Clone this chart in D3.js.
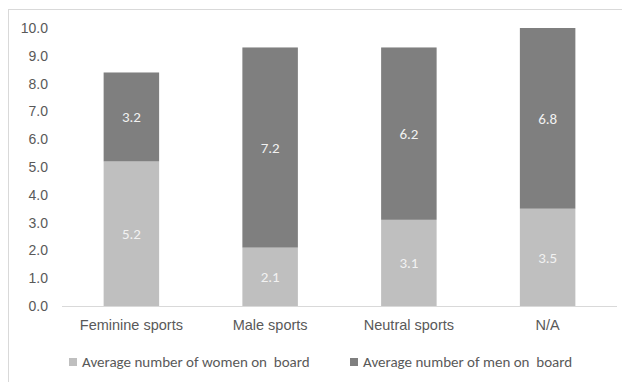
<!DOCTYPE html>
<html>
<head>
<meta charset="utf-8">
<script src="https://cdn.jsdelivr.net/npm/d3@7/dist/d3.min.js"></script>
<style>
  html, body { margin: 0; padding: 0; background: #fff; }
  svg { display: block; font-family: Carlito, Calibri, Lato, "Liberation Sans", sans-serif; }
</style>
</head>
<body>
<svg id="chart" width="622" height="382"></svg>
<script>
// Board composition by sport type
const categories = ["Feminine sports", "Male sports", "Neutral sports", "N/A"];
const women = [5.2, 2.1, 3.1, 3.5];
const men = [3.2, 7.2, 6.2, 6.8];
const yTicks = [0, 1, 2, 3, 4, 5, 6, 7, 8, 9, 10];
const seriesNames = ["Average number of women on  board", "Average number of men on  board"];
const seriesColors = ["#bfbfbf", "#7f7f7f"];

const svg = d3.select("#chart");
const W = 622, H = 382;

// outer chart frame
svg.append("rect")
  .attr("x", 8.5).attr("y", 9.5)
  .attr("width", W + 10).attr("height", H + 10)
  .attr("fill", "#fff").attr("stroke", "#d9d9d9").attr("stroke-width", 1);

const plot = { left: 62, right: 617, top: 28, bottom: 306 };

const x = d3.scaleBand()
  .domain(categories)
  .range([plot.left, plot.right])
  .paddingInner(0.6)
  .paddingOuter(0.3);

const y = d3.scaleLinear()
  .domain([0, 10])
  .range([plot.bottom, plot.top]);

svg.append("defs").append("clipPath").attr("id", "plotClip")
  .append("rect")
  .attr("x", plot.left).attr("y", plot.top)
  .attr("width", plot.right - plot.left).attr("height", plot.bottom - plot.top);

// stacked data
const rows = categories.map((c, i) => ({ cat: c, women: women[i], men: men[i] }));
const stack = d3.stack().keys(["women", "men"]);
const layers = stack(rows);

const barG = svg.append("g").attr("clip-path", "url(#plotClip)");
layers.forEach((layer, li) => {
  barG.selectAll(null)
    .data(layer)
    .enter().append("rect")
    .attr("x", d => x(d.data.cat))
    .attr("width", x.bandwidth())
    .attr("y", d => y(d[1]))
    .attr("height", d => y(d[0]) - y(d[1]))
    .attr("fill", seriesColors[li]);
});

// value labels, centred on the visible part of each segment
layers.forEach((layer, li) => {
  svg.selectAll(null)
    .data(layer)
    .enter().append("text")
    .attr("x", d => x(d.data.cat) + x.bandwidth() / 2)
    .attr("y", d => {
      const top = Math.max(y(d[1]), plot.top);
      return (top + y(d[0])) / 2;
    })
    .attr("dy", "0.35em")
    .attr("text-anchor", "middle")
    .attr("font-size", 15)
    .attr("fill", "#f2f2f2")
    .text(d => d3.format(".1f")(d[1] - d[0]));
});

// y axis labels
const yAxis = d3.axisLeft(y)
  .tickValues(yTicks)
  .tickFormat(d3.format(".1f"))
  .tickSize(0)
  .tickPadding(0);
const yG = svg.append("g").attr("transform", "translate(48,0)").call(yAxis);
yG.select(".domain").remove();
yG.selectAll("text").attr("font-size", 14).attr("fill", "#595959")
  .attr("font-family", null);

// x axis
const xAxis = d3.axisBottom(x).tickSize(0).tickPadding(14);
const xG = svg.append("g").attr("transform", `translate(0,${plot.bottom})`).call(xAxis);
xG.select(".domain").attr("stroke", "#d9d9d9").attr("stroke-width", 1)
  .attr("d", `M${plot.left},0.5H${plot.right}`);
xG.selectAll("text").attr("font-size", 14.5).attr("fill", "#595959")
  .attr("font-family", null);

// legend
const legendX = [69, 350];
seriesNames.forEach((name, i) => {
  const g = svg.append("g").attr("transform", `translate(${legendX[i]},358)`);
  g.append("rect").attr("x", 0).attr("y", 0).attr("width", 8).attr("height", 8)
    .attr("fill", seriesColors[i]);
  g.append("text").attr("x", 13).attr("y", 4).attr("dy", "0.35em")
    .attr("font-size", 15).attr("fill", "#595959")
    .attr("xml:space", "preserve")
    .style("white-space", "pre")
    .text(name);
});
</script>
</body>
</html>
